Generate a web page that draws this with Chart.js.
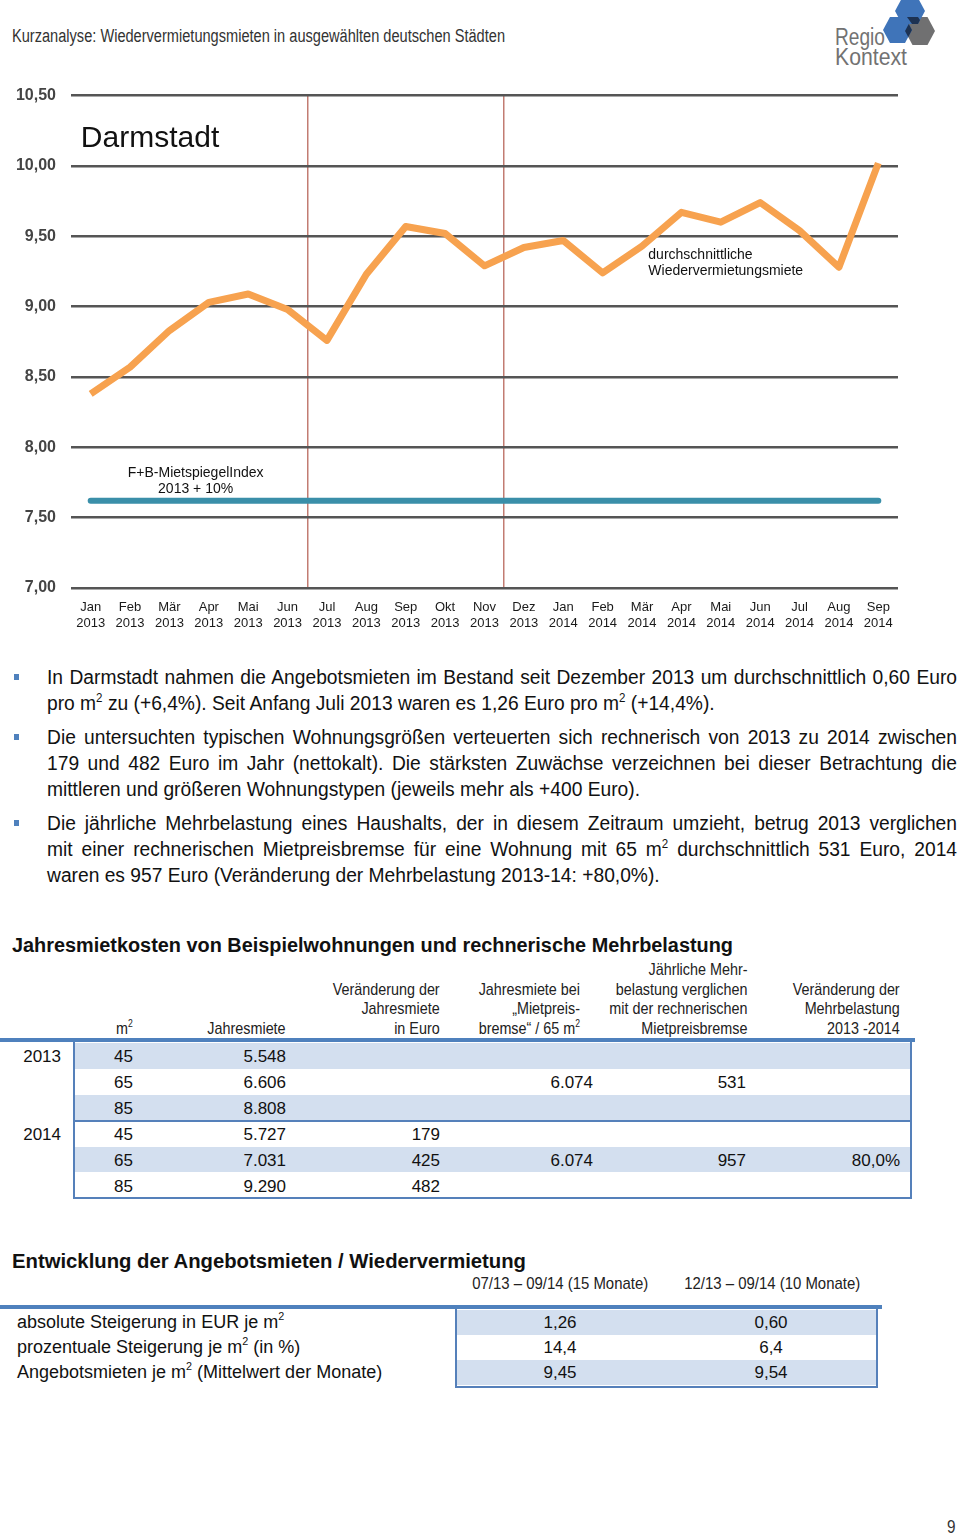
<!DOCTYPE html>
<html lang="de">
<head>
<meta charset="utf-8">
<script src="https://cdn.jsdelivr.net/npm/chart.js@4.4.1/dist/chart.umd.min.js"></script>
<style>
  html, body { margin:0; padding:0; background:#fff; }
  body { width:960px; height:1533px; position:relative; overflow:hidden; font-family:"Liberation Sans", Arial, sans-serif; color:#111; }
  .abs { position:absolute; white-space:nowrap; }
  #chartWrap { position:absolute; left:0; top:71px; width:910px; height:569px; }
  .bline { position:absolute; left:47px; height:26px; line-height:26px; font-size:20px; color:#111; text-align:justify; text-align-last:justify; white-space:nowrap; transform-origin:0 50%; }
  .bline.last { text-align:left; text-align-last:left; }
  sup { font-size:60%; line-height:0; vertical-align:0.7em; }
  .bullet { position:absolute; left:14px; width:5px; height:6px; background:#4f81bd; }
  .hcell { position:absolute; bottom:0; text-align:right; font-size:17px; line-height:19.5px; color:#222; white-space:nowrap; transform-origin:100% 100%; }
  .cell { position:absolute; font-size:17px; line-height:26px; white-space:nowrap; color:#111; }
  .title { position:absolute; left:12px; font-weight:bold; font-size:20px; white-space:nowrap; color:#111; transform-origin:0 50%; }
</style>
</head>
<body>
<div id="hdr" class="abs" style="left:12px; top:25px; font-size:18px; line-height:22px; color:#333; transform-origin:0 50%;">Kurzanalyse: Wiedervermietungsmieten in ausgewählten deutschen Städten</div>

<svg class="abs" style="left:880px; top:0px;" width="62" height="50" viewBox="0 0 62 50">
  <defs>
    <clipPath id="clipB"><polygon points="3,30 10,17 25,17 32,30 25,43 10,43"/></clipPath>
  </defs>
  <polygon points="25,31 32.5,17 47.5,17 55,31 47.5,45 32.5,45" fill="#707071"/>
  <polygon points="15,11 22,-2 38,-2 45,11 38,24 22,24" fill="#3f74b9"/>
  <polygon points="3,30 10,17 25,17 32,30 25,43 10,43" fill="#3f74b9"/>
  <polygon points="25,31 32.5,17 47.5,17 55,31 47.5,45 32.5,45" fill="#1d3252" clip-path="url(#clipB)"/>
  <polygon points="27,17 38,17 40,20 38,24 32,24" fill="#1d3252"/>
</svg>
<div id="logo1" class="abs" style="left:835px; top:25px; font-size:23px; line-height:24px; color:#727272; transform-origin:0 50%;">Regio</div>
<div id="logo2" class="abs" style="left:835px; top:45px; font-size:23px; line-height:24px; color:#727272; transform-origin:0 50%;">Kontext</div>

<div id="chartWrap"><canvas id="c" width="910" height="569"></canvas></div>

<div id="bullets"></div>
<div id="table1"></div>
<div id="table2"></div>

<div class="abs" style="left:947px; top:1516px; font-size:18px; line-height:22px; color:#333; transform:scaleX(0.85); transform-origin:0 50%;">9</div>

<script>
// ---------------- DATA ----------------
const months = ['Jan','Feb','Mär','Apr','Mai','Jun','Jul','Aug','Sep','Okt','Nov','Dez','Jan','Feb','Mär','Apr','Mai','Jun','Jul','Aug','Sep'];
const years  = ['2013','2013','2013','2013','2013','2013','2013','2013','2013','2013','2013','2013','2014','2014','2014','2014','2014','2014','2014','2014','2014'];
const rentValues = [8.38, 8.57, 8.83, 9.03, 9.09, 8.98, 8.76, 9.23, 9.57, 9.52, 9.29, 9.42, 9.47, 9.24, 9.43, 9.67, 9.60, 9.74, 9.54, 9.28, 10.02];
const mietspiegelValues = [7.62, 7.62, 7.62, 7.62, 7.62, 7.62, 7.62, 7.62, 7.62, 7.62, 7.62, 7.62, 7.62, 7.62, 7.62, 7.62, 7.62, 7.62, 7.62, 7.62, 7.62];
const yMin = 7.0, yMax = 10.5, yStep = 0.5;
const markerIndices = [6, 11]; // Jul 2013, Dez 2013
const chartTitle = 'Darmstadt';
const rentLabel = ['durchschnittliche', 'Wiedervermietungsmiete'];
const mietspiegelLabel = ['F+B-MietspiegelIndex', '2013 + 10%'];

const t1Years = ['2013', '', '', '2014', '', ''];
const t1Sizes = ['45', '65', '85', '45', '65', '85'];
const t1Rent  = ['5.548', '6.606', '8.808', '5.727', '7.031', '9.290'];
const t1Change = ['', '', '', '179', '425', '482'];
const t1Brake = ['', '6.074', '', '', '6.074', ''];
const t1Extra = ['', '531', '', '', '957', ''];
const t1ExtraChange = ['', '', '', '', '80,0%', ''];

const t2Periods = ['07/13 – 09/14 (15 Monate)', '12/13 – 09/14 (10 Monate)'];
const t2RowLabels = ['absolute Steigerung in EUR je m<sup>2</sup>', 'prozentuale Steigerung je m<sup>2</sup> (in %)', 'Angebotsmieten je m<sup>2</sup> (Mittelwert der Monate)'];
const t2Col1 = ['1,26', '14,4', '9,45'];
const t2Col2 = ['0,60', '6,4', '9,54'];

// ---------------- CHART ----------------
const labels = months.map((m, i) => [m, years[i]]);
const FONT = '"Liberation Sans", Arial, sans-serif';

const textPlugin = {
  id: 'texts',
  afterDraw(chart) {
    const ctx = chart.ctx, xs = chart.scales.x, ys = chart.scales.y;
    const items = [
      { lines: [chartTitle], x: -0.25, y: 10.19, font: '30px ' + FONT, align: 'left', lh: 34 },
      { lines: rentLabel, x: 14.16, y: 9.366, font: '14px ' + FONT, align: 'left', lh: 16 },
      { lines: mietspiegelLabel, x: 2.665, y: 7.814, font: '14px ' + FONT, align: 'center', lh: 16 }
    ];
    ctx.save();
    ctx.fillStyle = '#111';
    ctx.textBaseline = 'middle';
    items.forEach(it => {
      ctx.font = it.font; ctx.textAlign = it.align;
      const px = xs.getPixelForValue(it.x), py = ys.getPixelForValue(it.y);
      it.lines.forEach((l, k) => ctx.fillText(l, px, py + k * it.lh));
    });
    ctx.restore();
  }
};

new Chart(document.getElementById('c'), {
  type: 'line',
  data: {
    labels,
    datasets: [
      { data: rentValues, borderColor: '#f7a24f', borderWidth: 7, pointRadius: 0, tension: 0, borderJoinStyle: 'round', borderCapStyle: 'butt' },
      { data: mietspiegelValues, borderColor: '#3a8fa9', borderWidth: 6, pointRadius: 0, tension: 0, borderCapStyle: 'round' }
    ]
  },
  options: {
    responsive: false, animation: false, devicePixelRatio: 1,
    layout: { padding: { top: 5, right: 12, left: 0, bottom: 0 } },
    plugins: { legend: { display: false }, tooltip: { enabled: false } },
    scales: {
      x: {
        offset: true,
        grid: { offset: true, drawTicks: false, lineWidth: 1.5,
          color: c => markerIndices.includes(c.index) ? '#c27c72' : 'rgba(0,0,0,0)' },
        border: { display: false },
        ticks: { color: '#1a1a1a', font: { family: FONT, size: 13, lineHeight: 1.23 }, padding: 11, maxRotation: 0, autoSkip: false },
        afterFit: s => { s.height = 52; }
      },
      y: {
        min: yMin, max: yMax,
        grid: { color: '#555', lineWidth: 2.5, drawTicks: false },
        border: { display: false },
        ticks: { stepSize: yStep, color: '#444', padding: 15, font: { family: FONT, size: 16, weight: 'bold' },
          callback: v => v.toFixed(2).replace('.', ',') },
        afterFit: s => { s.width = 71; }
      }
    }
  },
  plugins: [textPlugin]
});

// ---------------- helpers ----------------
function fitWidth(el, target) {
  el.style.transform = '';
  const w = el.getBoundingClientRect().width;
  el.style.transform = `scaleX(${target / w})`;
}
function textWidth(html, font) {
  const s = document.createElement('span');
  s.style.cssText = `position:absolute; visibility:hidden; white-space:nowrap; font:${font};`;
  s.innerHTML = html; document.body.appendChild(s);
  const w = s.getBoundingClientRect().width; s.remove(); return w;
}

fitWidth(document.getElementById('hdr'), 493);
fitWidth(document.getElementById('logo1'), 50);
fitWidth(document.getElementById('logo2'), 72);

// ---------------- TEXT BLOCKS ----------------
const bulletParas = [
  { top: 664, lastW: 656, lines: [
    'In Darmstadt nahmen die Angebotsmieten im Bestand seit Dezember 2013 um durchschnittlich 0,60 Euro',
    'pro m<sup>2</sup> zu (+6,4%). Seit Anfang Juli 2013 waren es 1,26 Euro pro m<sup>2</sup> (+14,4%).' ] },
  { top: 724, lastW: 605, lines: [
    'Die untersuchten typischen Wohnungsgrößen verteuerten sich rechnerisch von 2013 zu 2014 zwischen',
    '179 und 482 Euro im Jahr (nettokalt). Die stärksten Zuwächse verzeichnen bei dieser Betrachtung die',
    'mittleren und größeren Wohnungstypen (jeweils mehr als +400 Euro).' ] },
  { top: 810, lastW: 611, lines: [
    'Die jährliche Mehrbelastung eines Haushalts, der in diesem Zeitraum umzieht, betrug 2013 verglichen',
    'mit einer rechnerischen Mietpreisbremse für eine Wohnung mit 65 m<sup>2</sup> durchschnittlich 531 Euro, 2014',
    'waren es 957 Euro (Veränderung der Mehrbelastung 2013-14: +80,0%).' ] }
];
const BFONT = '20px "Liberation Sans", Arial, sans-serif';
let sSum = 0;
bulletParas.forEach(p => { sSum += p.lastW / textWidth(p.lines[p.lines.length - 1], BFONT); });
const bScale = sSum / bulletParas.length;
let bh = '';
bulletParas.forEach(p => {
  bh += `<div class="bullet" style="top:${p.top + 10}px"></div>`;
  p.lines.forEach((l, i) => {
    const last = i === p.lines.length - 1;
    bh += `<div class="bline${last ? ' last' : ''}" style="top:${p.top + i * 26}px; width:${910 / bScale}px; transform:scaleX(${bScale})">${l}</div>`;
  });
});
document.getElementById('bullets').innerHTML = bh;

// Table 1
let t1 = `<div class="title" id="title1" style="top:934px; line-height:22px;">Jahresmietkosten von Beispielwohnungen und rechnerische Mehrbelastung</div>`;
const hdrs = [
  { right: 133, html: 'm<sup>2</sup>' },
  { right: 286, html: 'Jahresmiete' },
  { right: 440, html: 'Veränderung der<br>Jahresmiete<br>in Euro' },
  { right: 580, html: 'Jahresmiete bei<br>„Mietpreis-<br>bremse“ / 65 m<sup>2</sup>' },
  { right: 747, html: 'Jährliche Mehr-<br>belastung verglichen<br>mit der rechnerischen<br>Mietpreisbremse' },
  { right: 900, html: 'Veränderung der<br>Mehrbelastung<br>2013 -2014' }
];
const hScale = 107 / textWidth('Veränderung der', '17px "Liberation Sans", Arial, sans-serif');
t1 += `<div style="position:absolute; left:0; top:955px; width:960px; height:83px;">`;
hdrs.forEach(h => { t1 += `<div class="hcell" style="right:${960 - h.right}px; transform:scaleX(${hScale})">${h.html}</div>`; });
t1 += `</div>`;
t1 += `<div style="position:absolute; left:0; top:1038px; width:915px; height:4px; background:#4f81bd;"></div>`;
const rowTop = 1043, rowH = 25.9;
for (let r = 0; r < 6; r++) {
  const top = rowTop + r * rowH;
  if (r % 2 === 0) t1 += `<div style="position:absolute; left:75px; top:${top}px; width:835px; height:${rowH}px; background:#d3dfef;"></div>`;
}
t1 += `<div style="position:absolute; left:73px; top:1042px; width:835px; height:155px; border:2px solid #5580ba; border-top:none;"></div>`;
t1 += `<div style="position:absolute; left:73px; top:1120px; width:839px; height:2px; background:#5580ba;"></div>`;
const cols = [
  { right: 61, arr: t1Years }, { right: 133, arr: t1Sizes }, { right: 286, arr: t1Rent },
  { right: 440, arr: t1Change }, { right: 593, arr: t1Brake }, { right: 746, arr: t1Extra }, { right: 900, arr: t1ExtraChange }
];
cols.forEach(c => c.arr.forEach((v, r) => {
  if (!v) return;
  t1 += `<div class="cell" style="right:${960 - c.right}px; top:${rowTop + 1 + r * rowH}px">${v}</div>`;
}));
document.getElementById('table1').innerHTML = t1;
fitWidth(document.getElementById('title1'), 721);

// Table 2
let t2 = `<div class="title" id="title2" style="top:1250px; line-height:22px;">Entwicklung der Angebotsmieten / Wiedervermietung</div>`;
const pc = [560, 772];
t2Periods.forEach((p, i) => {
  t2 += `<div class="abs per" style="left:${pc[i]}px; top:1274px; font-size:17px; line-height:20px; color:#222;">${p}</div>`;
});
t2 += `<div style="position:absolute; left:0; top:1305px; width:882px; height:4px; background:#4f81bd;"></div>`;
const r2Top = 1309.5, r2H = 25;
for (let r = 0; r < 3; r++) {
  if (r % 2 === 0) t2 += `<div style="position:absolute; left:457px; top:${r2Top + r * r2H}px; width:419px; height:${r2H}px; background:#d3dfef;"></div>`;
}
t2 += `<div style="position:absolute; left:455px; top:1309px; width:419px; height:77px; border:2px solid #5580ba; border-top:none;"></div>`;
t2RowLabels.forEach((l, r) => {
  t2 += `<div class="cell" style="left:17px; top:${r2Top + r * r2H}px; line-height:25px; font-size:18px;">${l}</div>`;
  t2 += `<div class="cell" style="left:${pc[0] - 60}px; width:120px; text-align:center; top:${r2Top + r * r2H}px; line-height:25px;">${t2Col1[r]}</div>`;
  t2 += `<div class="cell" style="left:${pc[1] - 1 - 60}px; width:120px; text-align:center; top:${r2Top + r * r2H}px; line-height:25px;">${t2Col2[r]}</div>`;
});
document.getElementById('table2').innerHTML = t2;
fitWidth(document.getElementById('title2'), 514);
document.querySelectorAll('.per').forEach(el => {
  const w = el.getBoundingClientRect().width;
  const s = 176 / w;
  el.style.left = (parseFloat(el.style.left) - w / 2) + 'px';
  el.style.transformOrigin = '50% 50%';
  el.style.transform = `scaleX(${s})`;
});
</script>
</body>
</html>
